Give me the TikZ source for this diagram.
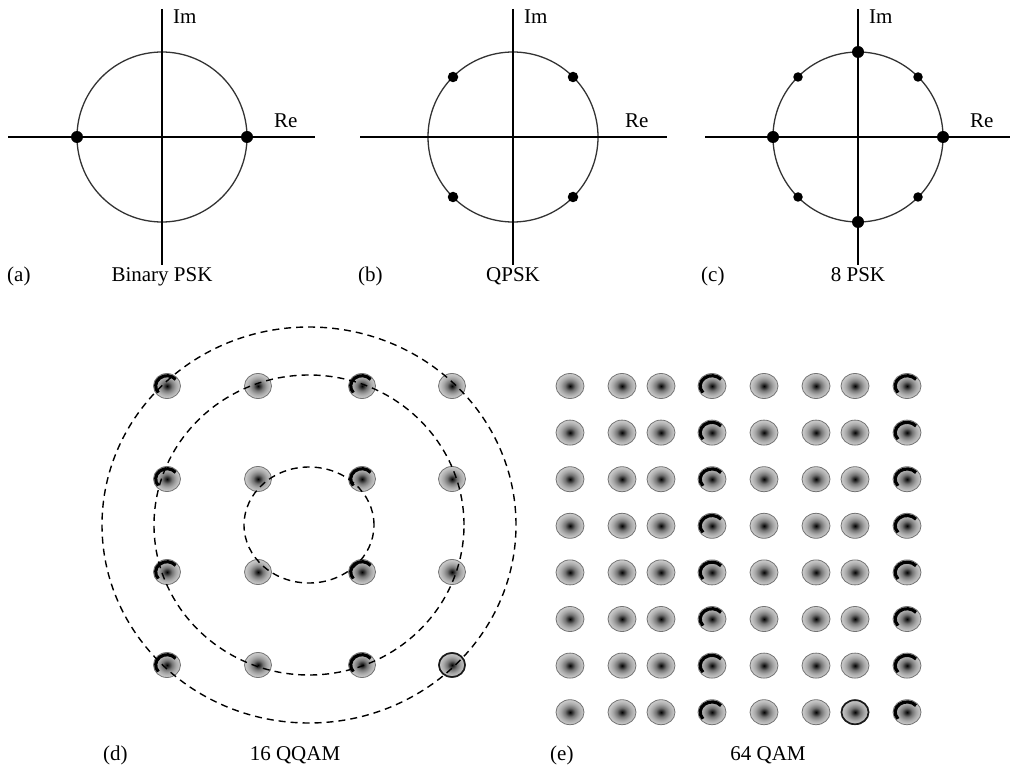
\documentclass[tikz,border=0pt]{standalone}
\usepackage{fontspec}
\setmainfont{Liberation Serif}
\usetikzlibrary{shapes.geometric}
\pgfdeclareradialshading{qdotsh}{\pgfpoint{0bp}{0bp}}{color(0bp)=(black);color(3bp)=(black!85);color(9bp)=(black!55);color(16bp)=(black!35);color(22bp)=(black!24);color(25bp)=(black!20);color(50bp)=(black!20)}
\begin{document}
\begin{tikzpicture}[x=1pt,y=-1pt,
  axisline/.style={line width=2.4pt, black},
  unitcirc/.style={line width=1.3pt, draw=black!80},
  bigdot/.style={circle, fill=black, inner sep=0pt, minimum size=12pt},
  middot/.style={circle, fill=black, inner sep=0pt, minimum size=10.5pt},
  smalldot/.style={circle, fill=black, inner sep=0pt, minimum size=9.5pt},
  qdot/.style={ellipse, draw=black!55, line width=0.8pt, shade, shading=qdotsh, minimum width=27pt, minimum height=25pt, inner sep=0pt},
  crest/.style={line width=3.2pt, black},
  darkring/.style={line width=1.6pt, black!90},
  ring/.style={line width=1.4pt, dash pattern=on 7pt off 5pt, black},
  lab/.style={font=\fontsize{21}{25}\selectfont, inner sep=0pt}]
\useasboundingbox (0,0) rectangle (1011,767);

% ---- top panels: axes, unit circles, Im/Re labels
\foreach \p/\cx/\xl/\xr in {a/162/8/315, b/513/360/667, c/858/705/1010}{
  \coordinate (ctr\p) at (\cx,137);
  \coordinate (top\p) at (\cx,9);
  \coordinate (bot\p) at (\cx,265);
  \coordinate (lft\p) at (\xl,137);
  \coordinate (rgt\p) at (\xr,137);
  \draw[unitcirc] (ctr\p) circle[radius=85pt];
  \draw[axisline] (top\p) -- (bot\p);
  \draw[axisline] (lft\p) -- (rgt\p);
  \node[lab, anchor=base west] (im\p) at (\cx+11,24) {Im};
  \node[lab, anchor=base west] (re\p) at (\cx+112,128) {Re};
}

% Binary PSK
\node[bigdot] (a1) at (77,137) {};
\node[bigdot] (a2) at (247,137) {};
% QPSK
\node[middot] (b1) at (453,77) {};
\node[middot] (b2) at (573,77) {};
\node[middot] (b3) at (453,197) {};
\node[middot] (b4) at (573,197) {};
% 8 PSK
\node[bigdot] (c1) at (858,52) {};
\node[smalldot] (c2) at (918,77) {};
\node[bigdot] (c3) at (943,137) {};
\node[smalldot] (c4) at (918,197) {};
\node[bigdot] (c5) at (858,222) {};
\node[smalldot] (c6) at (798,197) {};
\node[bigdot] (c7) at (773,137) {};
\node[smalldot] (c8) at (798,77) {};

% captions top
\node[lab, anchor=base west] (la) at (7,281) {(a)};
\node[lab, anchor=base] (ta) at (162,281) {Binary PSK};
\node[lab, anchor=base west] (lb) at (358,281) {(b)};
\node[lab, anchor=base] (tb) at (513,281) {QPSK};
\node[lab, anchor=base west] (lc) at (701,281) {(c)};
\node[lab, anchor=base] (tc) at (858,281) {8 PSK};

% ---- 16 QQAM
\foreach \x [count=\i] in {167,258,362,452}
  \foreach \y [count=\j] in {386,479,572,665}
    \node[qdot] (d\i\j) at (\x,\y) {};
\foreach \i in {1,3}
  \foreach \j in {1,...,4}
    \draw[crest] ([shift={(220:11.3pt and 10.3pt)}]d\i\j.center) arc[start angle=220, end angle=40, x radius=11.3pt, y radius=10.3pt];
\draw[darkring] (d44.center) ellipse[x radius=13pt, y radius=12pt];
\coordinate (dctr) at (309,525);
\draw[ring] (dctr) ellipse[x radius=65pt, y radius=58pt];
\draw[ring] (dctr) ellipse[x radius=155pt, y radius=150pt];
\draw[ring] (dctr) ellipse[x radius=207pt, y radius=198pt];
\node[lab, anchor=base west] (ld) at (103,760) {(d)};
\node[lab, anchor=base] (td) at (295,760) {16 QQAM};

% ---- 64 QAM
\foreach \x [count=\i] in {570,622,661,712,764,816,855,907}
  \foreach \j in {1,...,8}
    \node[qdot, minimum width=28pt] (e\i\j) at (\x,339.4+46.6*\j) {};
\foreach \i in {4,8}
  \foreach \j in {1,...,8}
    \draw[crest] ([shift={(220:11.8pt and 10.3pt)}]e\i\j.center) arc[start angle=220, end angle=40, x radius=11.8pt, y radius=10.3pt];
\draw[darkring] (e78.center) ellipse[x radius=13.5pt, y radius=12pt];
\node[lab, anchor=base west] (le) at (550,760) {(e)};
\node[lab, anchor=base] (te) at (768,760) {64 QAM};
\end{tikzpicture}
\end{document}
